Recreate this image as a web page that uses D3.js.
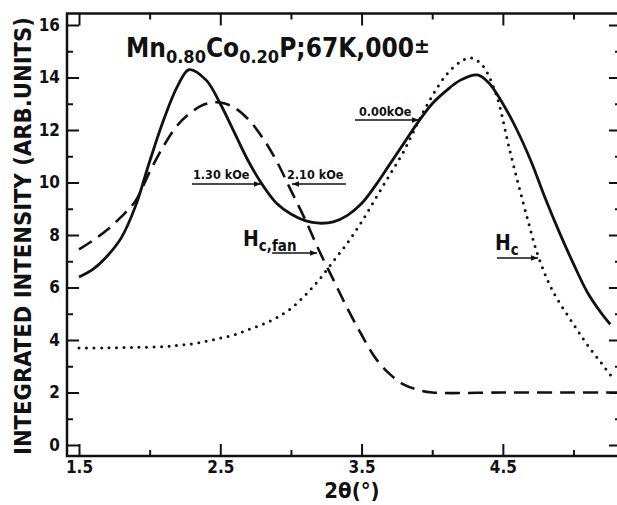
<!DOCTYPE html>
<html><head><meta charset="utf-8">
<script src="https://cdn.jsdelivr.net/npm/d3@7"></script>
<style>
html,body{margin:0;padding:0;background:#fff;}
svg{display:block;}
text{font-family:"DejaVu Sans Condensed","DejaVu Sans",sans-serif;font-weight:bold;fill:#111;}
</style></head>
<body>
<svg id="chart" width="617" height="505"></svg>
<script>
// ---- data ----
const xMajorTicks = [1.5, 2.5, 3.5, 4.5];
const xMinorTicks = [2.0, 3.0, 4.0, 5.0];
const yMajorTicks = [0, 2, 4, 6, 8, 10, 12, 14, 16];
const yMinorTicks = [1, 3, 5, 7, 9, 11, 13, 15];

const solidX = [1.5,1.6,1.7,1.8,1.9,2.0,2.1,2.2,2.28,2.4,2.5,2.6,2.7,2.8,2.9,3.0,3.1,3.2,3.3,3.4,3.5,3.6,3.7,3.8,3.9,4.0,4.1,4.2,4.32,4.4,4.5,4.6,4.7,4.8,4.9,5.0,5.1,5.2,5.26];
const solidY = [6.4,6.7,7.2,7.9,9.1,10.8,12.4,13.7,14.3,13.9,13.0,11.9,10.8,9.9,9.2,8.8,8.55,8.45,8.5,8.75,9.2,9.9,10.7,11.5,12.3,13.0,13.5,13.9,14.1,13.8,13.0,12.0,10.8,9.4,8.1,6.9,5.8,5.0,4.6];

const dashedX = [1.5,1.6,1.7,1.8,1.9,2.0,2.1,2.2,2.3,2.4,2.5,2.6,2.7,2.8,2.9,3.0,3.1,3.2,3.3,3.4,3.5,3.6,3.7,3.8,3.9,4.0,4.5,5.0,5.33];
const dashedY = [7.45,7.8,8.2,8.7,9.3,10.4,11.4,12.2,12.7,13.0,13.05,12.85,12.4,11.7,10.8,9.7,8.6,7.4,6.3,5.2,4.2,3.3,2.7,2.3,2.1,2.0,2.0,2.0,2.0];

const dottedX = [1.5,1.7,1.9,2.1,2.2,2.3,2.4,2.5,2.6,2.7,2.8,2.9,3.0,3.1,3.2,3.3,3.4,3.5,3.6,3.7,3.8,3.9,4.0,4.1,4.2,4.27,4.35,4.45,4.55,4.67,4.75,4.85,5.0,5.1,5.2,5.27];
const dottedY = [3.7,3.7,3.72,3.75,3.8,3.85,3.95,4.07,4.2,4.4,4.6,4.85,5.2,5.7,6.3,7.0,7.7,8.5,9.4,10.3,11.2,12.3,13.3,14.1,14.6,14.75,14.5,13.4,11.2,8.7,7.2,5.9,4.6,3.8,3.1,2.6];

// ---- layout ----
const svg = d3.select("#chart");
const frame = {left: 67, top: 13.5, right: 621, bottom: 456};
const x = d3.scaleLinear().domain([1.5, 5.0]).range([79, 573.5]);
const y = d3.scaleLinear().domain([0, 16]).range([445, 25]);

const defs = svg.append("defs");
defs.append("marker").attr("id","ah").attr("viewBox","0 0 10 10")
  .attr("refX",10).attr("refY",5).attr("markerWidth",9).attr("markerHeight",7)
  .attr("markerUnits","userSpaceOnUse").attr("orient","auto")
  .append("path").attr("d","M0,1 L10,5 L0,9 Z").attr("fill","#111");

// frame
svg.append("rect").attr("x",frame.left).attr("y",frame.top)
  .attr("width",frame.right-frame.left).attr("height",frame.bottom-frame.top)
  .attr("fill","none").attr("stroke","#111").attr("stroke-width",2.5);

function styleAxis(g){
  g.select(".domain").remove();
  g.selectAll(".tick line").attr("stroke","#111").attr("stroke-width",2);
  g.selectAll("text").attr("font-size",17).attr("font-family",'"DejaVu Sans Condensed","DejaVu Sans",sans-serif').attr("font-weight","bold").attr("fill","#111");
}
// bottom
svg.append("g").attr("transform",`translate(0,${frame.bottom})`)
  .call(d3.axisBottom(x).tickValues(xMajorTicks).tickSize(-12).tickPadding(5).tickFormat(d3.format(".1f")))
  .call(styleAxis);
svg.append("g").attr("transform",`translate(0,${frame.bottom})`)
  .call(d3.axisBottom(x).tickValues(xMinorTicks).tickSize(-6).tickFormat(""))
  .call(styleAxis);
// top
svg.append("g").attr("transform",`translate(0,${frame.top})`)
  .call(d3.axisTop(x).tickValues(xMajorTicks).tickSize(-12).tickFormat(""))
  .call(styleAxis);
svg.append("g").attr("transform",`translate(0,${frame.top})`)
  .call(d3.axisTop(x).tickValues(xMinorTicks).tickSize(-6).tickFormat(""))
  .call(styleAxis);
// left
svg.append("g").attr("transform",`translate(${frame.left},0)`)
  .call(d3.axisLeft(y).tickValues(yMajorTicks).tickSize(-12).tickPadding(7).tickFormat(d3.format("d")))
  .call(styleAxis);
svg.append("g").attr("transform",`translate(${frame.left},0)`)
  .call(d3.axisLeft(y).tickValues(yMinorTicks).tickSize(-6).tickFormat(""))
  .call(styleAxis);
// right
svg.append("g").attr("transform",`translate(${frame.right},0)`)
  .call(d3.axisRight(y).tickValues(yMajorTicks).tickSize(-12).tickFormat(""))
  .call(styleAxis);
svg.append("g").attr("transform",`translate(${frame.right},0)`)
  .call(d3.axisRight(y).tickValues(yMinorTicks).tickSize(-6).tickFormat(""))
  .call(styleAxis);

// curves
const line = d3.line().x(d=>x(d[0])).y(d=>y(d[1])).curve(d3.curveCatmullRom.alpha(0.5));
svg.append("path").datum(d3.zip(dottedX, dottedY)).attr("d", line)
  .attr("fill","none").attr("stroke","#111").attr("stroke-width",3)
  .attr("stroke-linecap","round").attr("stroke-dasharray","0 7.5");
svg.append("path").datum(d3.zip(dashedX, dashedY)).attr("d", line)
  .attr("fill","none").attr("stroke","#111").attr("stroke-width",2.6)
  .attr("stroke-dasharray","15 8");
svg.append("path").datum(d3.zip(solidX, solidY)).attr("d", line)
  .attr("fill","none").attr("stroke","#111").attr("stroke-width",2.8);

// axis titles
svg.append("text").attr("transform","translate(31,236) rotate(-90)")
  .attr("text-anchor","middle").attr("font-size",23)
  .attr("textLength",438).attr("lengthAdjust","spacingAndGlyphs")
  .text("INTEGRATED INTENSITY (ARB.UNITS)");
svg.append("text").attr("x",352).attr("y",498).attr("text-anchor","middle")
  .attr("font-size",22).text("2θ(°)");

// title
const t = svg.append("text").attr("x",126).attr("y",57).attr("font-size",26);
t.append("tspan").text("Mn");
t.append("tspan").attr("font-size",18).attr("dy",6).text("0.80");
t.append("tspan").attr("dy",-6).text("Co");
t.append("tspan").attr("font-size",18).attr("dy",6).text("0.20");
t.append("tspan").attr("dy",-6).text("P;67K,000");
t.append("tspan").attr("font-size",21).attr("dy",-4).text("±");

// annotations
function arrow(x1,y1,x2,y2){
  svg.append("line").attr("x1",x1).attr("y1",y1).attr("x2",x2).attr("y2",y2)
    .attr("stroke","#111").attr("stroke-width",1.6).attr("marker-end","url(#ah)");
}
svg.append("text").attr("x",359).attr("y",116).attr("font-size",12.5).text("0.00kOe");
arrow(355,120,419,120);
svg.append("text").attr("x",193).attr("y",179).attr("font-size",12.5).text("1.30 kOe");
arrow(192,184,261,184);
svg.append("text").attr("x",287).attr("y",179).attr("font-size",12.5).text("2.10 kOe");
arrow(346,184,292,184);
const hf = svg.append("text").attr("x",243).attr("y",246).attr("font-size",21).attr("font-weight","normal");
hf.append("tspan").text("H");
hf.append("tspan").attr("font-size",15).attr("font-weight","bold").attr("dy",5).text("c,fan");
arrow(272,253,317,253);
const hc = svg.append("text").attr("x",495).attr("y",250).attr("font-size",21).attr("font-weight","normal");
hc.append("tspan").text("H");
hc.append("tspan").attr("font-size",15).attr("font-weight","bold").attr("dy",5).text("c");
arrow(497,258,538,258);
</script>
</body></html>
